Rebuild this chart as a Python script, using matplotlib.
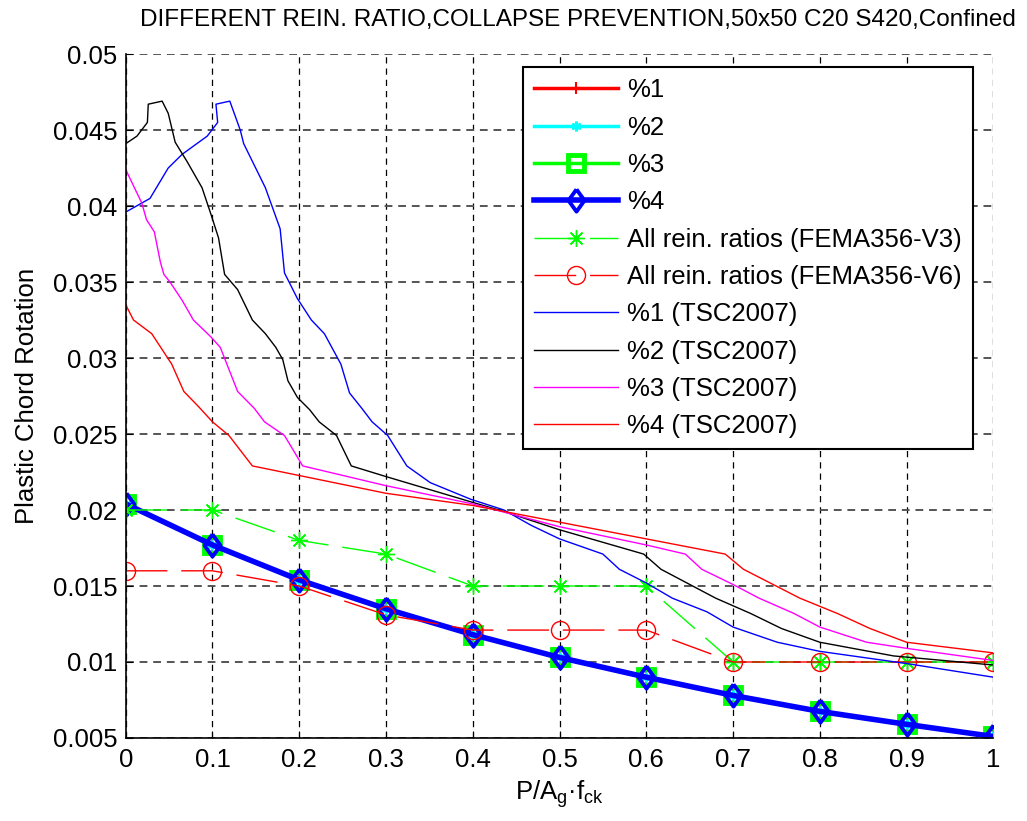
import numpy as np
import matplotlib
matplotlib.use("Agg")
import matplotlib.pyplot as plt

plt.rcParams['font.family'] = ['Liberation Sans', 'DejaVu Sans']

# axial load ratio used for the ratio curves
ratio = [0, 0.1, 0.2, 0.3, 0.4, 0.5, 0.6, 0.7, 0.8, 0.9, 1.0]

# model results (all four reinforcement ratios give the same values)
rot_1 = [0.0204, 0.0177, 0.0154, 0.0135, 0.0118, 0.0103, 0.0090, 0.0078, 0.00675, 0.0059, 0.0051]
rot_2 = [0.0204, 0.0177, 0.0154, 0.0135, 0.0118, 0.0103, 0.0090, 0.0078, 0.00675, 0.0059, 0.0051]
rot_3 = [0.0204, 0.0177, 0.0154, 0.0135, 0.0118, 0.0103, 0.0090, 0.0078, 0.00675, 0.0059, 0.0051]
rot_4 = [0.0204, 0.0177, 0.0154, 0.0135, 0.0118, 0.0103, 0.0090, 0.0078, 0.00675, 0.0059, 0.0051]

fema_v3 = [0.020, 0.020, 0.018, 0.0171, 0.015, 0.015, 0.015, 0.010, 0.010, 0.010, 0.010]
fema_v6 = [0.016, 0.016, 0.015, 0.0131, 0.0121, 0.0121, 0.0121, 0.010, 0.010, 0.010, 0.010]

# TSC2007 curves
tsc1_x = [0, 0.028, 0.049, 0.065, 0.094, 0.106, 0.104, 0.120, 0.132, 0.136, 0.161, 0.178, 0.183,
          0.198, 0.214, 0.229, 0.248, 0.258, 0.272, 0.284, 0.302, 0.324, 0.351, 0.398, 0.436, 0.467,
          0.5, 0.550, 0.569, 0.6, 0.630, 0.670, 0.7, 0.751, 0.8, 0.9, 1.0]
tsc1_y = [0.0396, 0.0405, 0.0425, 0.0434, 0.0446, 0.0455, 0.0467, 0.0469, 0.0450, 0.0441, 0.0412,
          0.0385, 0.0356, 0.0339, 0.0325, 0.0316, 0.0296, 0.0277, 0.0267, 0.0258, 0.0249, 0.0229,
          0.0218, 0.0207, 0.0200, 0.0190, 0.0181, 0.0171, 0.0161, 0.0152, 0.0142, 0.0133, 0.0123,
          0.0113, 0.0107, 0.0099, 0.0090]

tsc2_x = [0, 0.013, 0.025, 0.026, 0.042, 0.049, 0.057, 0.071, 0.088, 0.098, 0.107, 0.114, 0.129,
          0.146, 0.161, 0.173, 0.181, 0.187, 0.198, 0.212, 0.223, 0.243, 0.260, 0.3, 0.4, 0.436,
          0.5, 0.597, 0.617, 0.680, 0.720, 0.756, 0.8, 0.885, 1.0]
tsc2_y = [0.0441, 0.0446, 0.0455, 0.0467, 0.0469, 0.0461, 0.0442, 0.0429, 0.0412, 0.0395, 0.0379,
          0.0355, 0.0345, 0.0325, 0.0316, 0.0307, 0.0299, 0.0285, 0.0274, 0.0266, 0.0258, 0.0249,
          0.0229, 0.0222, 0.0205, 0.0199, 0.0187, 0.0171, 0.0161, 0.0142, 0.0132, 0.0122, 0.0113,
          0.0104, 0.0098]

tsc3_x = [0, 0.0185, 0.024, 0.033, 0.040, 0.044, 0.051, 0.065, 0.078, 0.098, 0.109, 0.129, 0.148,
          0.160, 0.183, 0.204, 0.3, 0.4, 0.5, 0.6, 0.645, 0.664, 0.7, 0.730, 0.770, 0.8, 0.854,
          0.9, 1.0]
tsc3_y = [0.0424, 0.0402, 0.0391, 0.0383, 0.0363, 0.0355, 0.0350, 0.0338, 0.0325, 0.0314, 0.0307,
          0.0278, 0.0267, 0.0258, 0.0249, 0.0229, 0.0216, 0.0204, 0.0189, 0.0177, 0.0171, 0.0161,
          0.0151, 0.0142, 0.0132, 0.0123, 0.0113, 0.0109, 0.0101]

tsc4_x = [0, 0.009, 0.030, 0.053, 0.067, 0.084, 0.100, 0.119, 0.146, 0.3, 0.4, 0.5, 0.6, 0.691,
          0.712, 0.777, 0.820, 0.858, 0.9, 1.0]
tsc4_y = [0.0335, 0.0325, 0.0316, 0.0296, 0.0278, 0.0268, 0.0258, 0.0249, 0.0229, 0.0211, 0.0203,
          0.0192, 0.0181, 0.0171, 0.0161, 0.0142, 0.0132, 0.0122, 0.0113, 0.0106]

x_ticks = [0, 0.1, 0.2, 0.3, 0.4, 0.5, 0.6, 0.7, 0.8, 0.9, 1]
x_ticklabels = ['0', '0.1', '0.2', '0.3', '0.4', '0.5', '0.6', '0.7', '0.8', '0.9', '1']
y_ticks = [0.005, 0.01, 0.015, 0.02, 0.025, 0.03, 0.035, 0.04, 0.045, 0.05]
y_ticklabels = ['0.005', '0.01', '0.015', '0.02', '0.025', '0.03', '0.035', '0.04', '0.045', '0.05']

FS = 18.5

fig = plt.figure(figsize=(10.27, 8.21), dpi=100)
ax = fig.add_axes([0.1224, 0.1011, 0.8448, 0.8331])

# MATLAB-like diamond, a bit wider than matplotlib's thin diamond
diamond = [(0, 1), (0.72, 0), (0, -1), (-0.72, 0), (0, 1)]

ax.plot(ratio, rot_1, color='#ff0000', lw=2.5, marker='+', ms=8, mew=1.5, label='%1')
ax.plot(ratio, rot_2, color='#00ffff', lw=2.5, marker=(6, 2, 0), ms=7, mew=2, label='%2')
ax.plot(ratio, rot_3, color='#00ff00', lw=2.5, marker='s', ms=12, mew=3.5, mfc='none', label='%3')
ax.plot(ratio, rot_4, color='#0000ff', lw=4, marker=diamond, ms=16, mew=2.8, mfc='none', label='%4')
ax.plot(ratio, fema_v3, color='#00ff00', lw=1, ls=(0, (30, 10)), marker=(8, 2, 0), ms=12, mew=1,
        label='All rein. ratios (FEMA356-V3)')
ax.plot(ratio, fema_v6, color='#ff0000', lw=1, ls=(0, (30, 10)), marker='o', ms=13, mew=1, mfc='none',
        label='All rein. ratios (FEMA356-V6)')
ax.plot(tsc1_x, tsc1_y, color='#0000ff', lw=1, label='%1 (TSC2007)')
ax.plot(tsc2_x, tsc2_y, color='#000000', lw=1, label='%2 (TSC2007)')
ax.plot(tsc3_x, tsc3_y, color='#ff00ff', lw=1, label='%3 (TSC2007)')
ax.plot(tsc4_x, tsc4_y, color='#ff0000', lw=1, label='%4 (TSC2007)')

ax.set_xlim(0, 1)
ax.set_ylim(0.005, 0.05)
ax.set_xticks(x_ticks)
ax.set_xticklabels(x_ticklabels)
ax.set_yticks(y_ticks)
ax.set_yticklabels(y_ticklabels)
ax.tick_params(direction='in', length=5, labelsize=FS, top=False, right=False)
ax.tick_params(axis='x', pad=7)
ax.tick_params(axis='y', pad=6)

ax.grid(axis='x', color='black', lw=0.9, ls=(0, (5, 4)))
ax.grid(axis='y', color='#555555', lw=1.4, ls=(0, (4, 3)))
ax.set_axisbelow(True)
ax.spines['top'].set_visible(False)
ax.spines['right'].set_visible(False)
for s in ['left', 'bottom']:
    ax.spines[s].set_linewidth(1.2)

ax.set_xlabel('P/A$_\\mathregular{g}$\u00b7f$_\\mathregular{ck}$', fontsize=FS)
ax.xaxis.set_label_coords(0.5, -0.0585)
ax.set_ylabel('Plastic Chord Rotation', fontsize=FS)
ax.yaxis.set_label_coords(-0.0999, 0.5)
fig.text(578 / 1027, 1 - 26 / 821, 'DIFFERENT REIN. RATIO,COLLAPSE PREVENTION,50x50 C20 S420,Confined',
         fontsize=17.5, ha='center', va='baseline')

leg = ax.legend(loc='upper right', bbox_to_anchor=(0.9766, 0.9805), borderaxespad=0,
                fontsize=FS, handlelength=3.3, handletextpad=0.35, labelspacing=0.52,
                fancybox=False, framealpha=1, edgecolor='black', borderpad=0.42)
leg.get_frame().set_linewidth(1.5)

fig.savefig('out.png', dpi=100)
